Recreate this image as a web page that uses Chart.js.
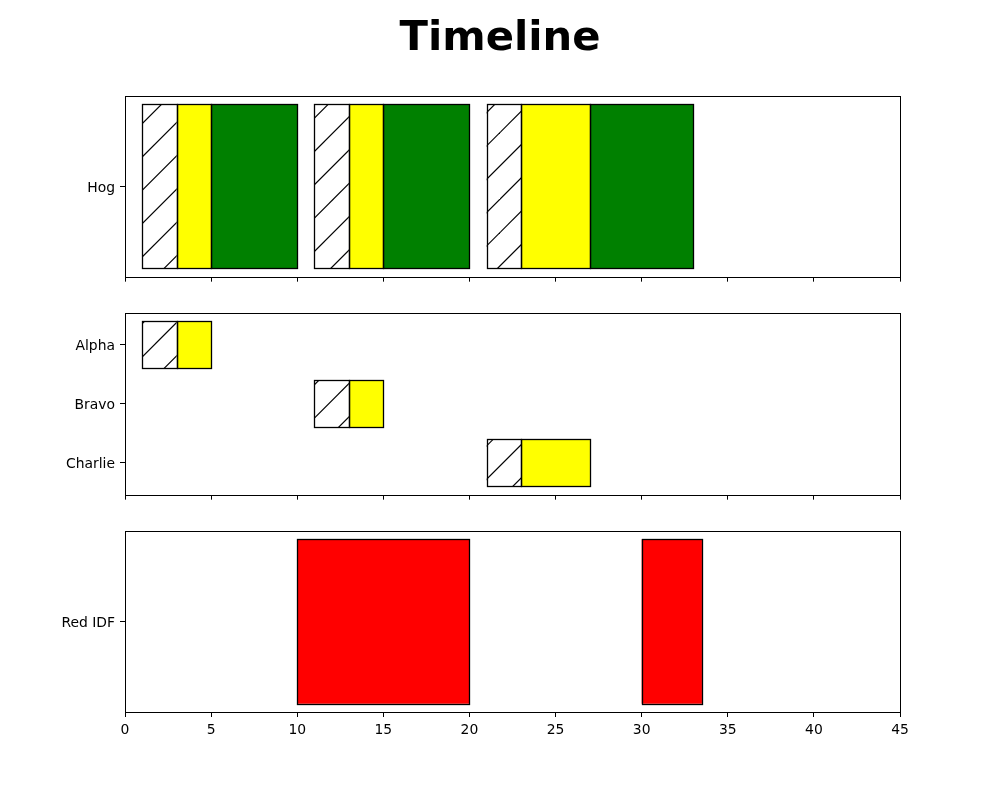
<!DOCTYPE html>
<html><head><meta charset="utf-8">
<script src="https://cdn.jsdelivr.net/npm/chart.js@4"></script>
<style>
html,body{margin:0;padding:0;background:#fff;}
#wrap{position:relative;width:1000px;height:800px;overflow:hidden;}
canvas{position:absolute;left:0;}
</style></head><body>
<div id="wrap">
<canvas id="c1" width="1000" height="290" style="top:0px"></canvas>
<canvas id="c2" width="1000" height="218" style="top:290px"></canvas>
<canvas id="c3" width="1000" height="292" style="top:508px"></canvas>
</div>
<script>
// ---- data ----
const titleText = 'Timeline';
const xTickValues = [0, 5, 10, 15, 20, 25, 30, 35, 40, 45];
const hogLabels = ['Hog'];
const hogHatched = [[1, 3], [11, 13], [21, 23]];
const hogYellow = [[3, 5], [13, 15], [23, 27]];
const hogGreen = [[5, 10], [15, 20], [27, 33]];
const squadLabels = ['Alpha', 'Bravo', 'Charlie'];
const squadHatched = [[1, 3], [11, 13], [21, 23]];
const squadYellow = [[3, 5], [13, 15], [23, 27]];
const redLabels = ['Red IDF'];
const redBars = [[10, 20], [30, 33.5]];

// ---- helpers ----
const FONT = {family: 'DejaVu Sans', size: 13.9};
function makeHatch(top) {
  const c = document.createElement('canvas');
  c.width = 100; c.height = 100;
  const g = c.getContext('2d');
  g.fillStyle = '#fff'; g.fillRect(0, 0, 100, 100);
  g.strokeStyle = '#000'; g.lineWidth = 1.2;
  const sp = 100 / 3;
  const base = (((32.5 - top) % sp) + sp) % sp;
  for (let k = -2; k < 10; k++) {
    const s = base + k * sp;
    g.beginPath(); g.moveTo(s + 20, -20); g.lineTo(-20, s + 20); g.stroke();
  }
  return g.createPattern(c, 'repeat');
}
const framePlugin = {
  id: 'frame',
  afterDatasetsDraw(chart) {
    const {ctx, chartArea: a} = chart;
    ctx.save();
    ctx.strokeStyle = '#000';
    // crisp bar edges
    ctx.lineWidth = 1.3;
    chart.data.datasets.forEach((d, di) => {
      chart.getDatasetMeta(di).data.forEach(el => {
        const p = el.getProps(['x', 'y', 'base', 'height'], true);
        const l = Math.round(Math.min(p.x, p.base)), r = Math.round(Math.max(p.x, p.base));
        const t = Math.round(p.y - p.height / 2), b = Math.round(p.y + p.height / 2);
        ctx.strokeRect(l + 0.5, t + 0.5, r - l, b - t);
      });
    });
    ctx.lineWidth = 1;
    const l = Math.round(a.left), t = Math.round(a.top);
    ctx.strokeRect(l + 0.5, t + 0.5, Math.round(a.right) - l, Math.round(a.bottom) - t);
    ctx.restore();
  }
};
function xScale(showLabels, height) {
  return {
    type: 'linear', min: 0, max: 45, offset: false,
    afterBuildTicks: s => { s.ticks = xTickValues.map(v => ({value: v})); },
    afterFit: s => { s.height = height; },
    grid: {drawOnChartArea: false, drawTicks: true, tickLength: 5, color: '#000', lineWidth: 1, offset: false},
    border: {display: false},
    ticks: {display: showLabels, color: '#000', padding: 5, font: FONT, maxRotation: 0, autoSkip: false}
  };
}
function yCat(labels) {
  return {
    type: 'category', labels: labels, offset: true,
    afterFit: s => { s.width = 125; },
    grid: {drawOnChartArea: false, drawTicks: true, tickLength: 5, color: '#000', lineWidth: 1, offset: false},
    border: {display: false},
    ticks: {color: '#000', padding: 5, font: FONT, labelOffset: 2}
  };
}
function bar(range, color) {
  return {
    data: [range],
    backgroundColor: color, borderWidth: 0,
    grouped: false, categoryPercentage: 1, barPercentage: 1 / 1.1
  };
}
const baseOpts = {responsive: false, animation: false, devicePixelRatio: 1, indexAxis: 'y',
  plugins: {legend: {display: false}, tooltip: {enabled: false}}};

// ---- chart 1: Hog ----
const hatch1 = makeHatch(0);
const ds1 = [];
hogHatched.forEach(r => ds1.push(bar(r, hatch1)));
hogYellow.forEach(r => ds1.push(bar(r, '#ffff00')));
hogGreen.forEach(r => ds1.push(bar(r, '#008000')));
new Chart(document.getElementById('c1'), {
  type: 'bar',
  data: {labels: hogLabels, datasets: ds1},
  options: Object.assign({}, baseOpts, {
    layout: {padding: {left: 0, right: 0, top: 0, bottom: 0}},
    plugins: {legend: {display: false}, tooltip: {enabled: false},
      title: {display: true, text: titleText, color: '#000',
        font: {family: 'DejaVu Sans', size: 41.7, weight: 'bold', lineHeight: 1.2},
        padding: {top: 14.5, bottom: 31.5}}},
    scales: {
      x: xScale(false, 13),
      y: yCat(hogLabels),
      yR: {type: 'linear', position: 'right', display: true,
        grid: {display: false}, ticks: {display: false}, border: {display: false},
        afterFit: s => { s.width = 100; }}
    }
  }),
  plugins: [framePlugin]
});

// ---- chart 2: squads ----
const hatch2 = makeHatch(290);
const ds2 = [
  {data: squadHatched.map((r, i) => ({x: r, y: i})), backgroundColor: hatch2},
  {data: squadYellow.map((r, i) => ({x: r, y: i})), backgroundColor: '#ffff00'}
].map(d => Object.assign(d, {borderWidth: 0,
  grouped: false, categoryPercentage: 1, barPercentage: 0.8}));
new Chart(document.getElementById('c2'), {
  type: 'bar',
  data: {datasets: ds2},
  options: Object.assign({}, baseOpts, {
    layout: {padding: {left: 0, right: 100, top: 23, bottom: 0}},
    scales: {
      x: xScale(false, 13),
      y: {type: 'linear', min: -0.54, max: 2.54, reverse: true, offset: false,
        afterBuildTicks: s => { s.ticks = squadLabels.map((_, i) => ({value: i})); },
        afterFit: s => { s.width = 125; },
        grid: {drawOnChartArea: false, drawTicks: true, tickLength: 5, color: '#000', lineWidth: 1, offset: false},
        border: {display: false},
        ticks: {color: '#000', padding: 5, font: FONT, labelOffset: 2, callback: v => squadLabels[v] ?? ''}}
    }
  }),
  plugins: [framePlugin]
});

// ---- chart 3: Red IDF ----
const ds3 = redBars.map(r => bar(r, '#ff0000'));
new Chart(document.getElementById('c3'), {
  type: 'bar',
  data: {labels: redLabels, datasets: ds3},
  options: Object.assign({}, baseOpts, {
    layout: {padding: {left: 0, right: 100, top: 23, bottom: 0}},
    scales: {
      x: xScale(true, 88),
      y: yCat(redLabels)
    }
  }),
  plugins: [framePlugin]
});
</script>
</body></html>
